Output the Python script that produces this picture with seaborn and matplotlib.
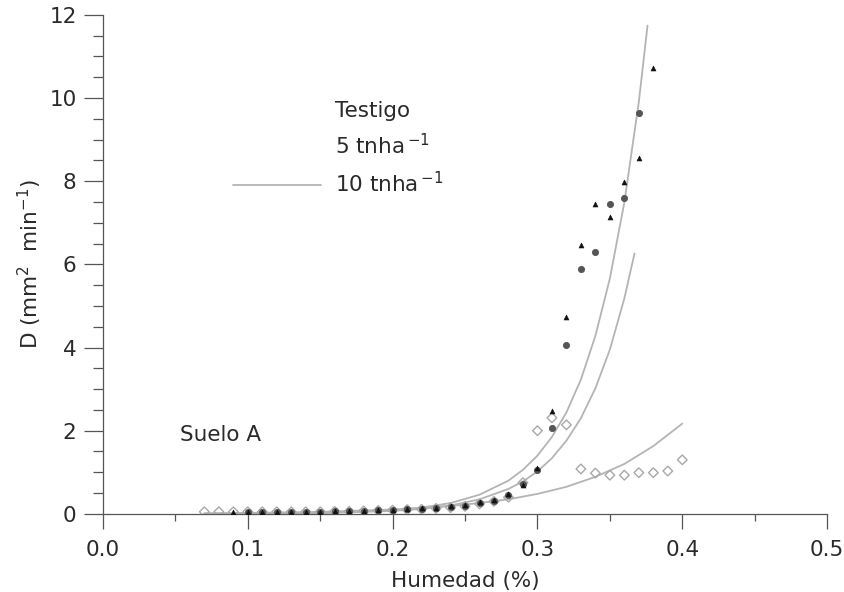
import matplotlib
matplotlib.use("Agg")
import matplotlib.pyplot as plt
from matplotlib.lines import Line2D
from matplotlib.ticker import MultipleLocator
import seaborn as sns
import pandas as pd

# ---------------- data ----------------
testigo_x = [0.09, 0.10, 0.11, 0.12, 0.13, 0.14, 0.15, 0.16, 0.17, 0.18, 0.19, 0.20,
             0.21, 0.22, 0.23, 0.24, 0.25, 0.26, 0.27, 0.28, 0.29, 0.30, 0.31, 0.32,
             0.33, 0.34, 0.35, 0.36, 0.37, 0.38]
testigo_y = [0.04, 0.04, 0.05, 0.05, 0.05, 0.05, 0.05, 0.06, 0.07, 0.08, 0.09, 0.10,
             0.11, 0.13, 0.15, 0.18, 0.22, 0.28, 0.33, 0.48, 0.70, 1.10, 2.48, 4.74,
             6.47, 7.46, 7.14, 7.98, 8.56, 10.73]

t5_x = [0.10, 0.11, 0.12, 0.13, 0.14, 0.15, 0.16, 0.17, 0.18, 0.19, 0.20, 0.21,
        0.22, 0.23, 0.24, 0.25, 0.26, 0.27, 0.28, 0.29, 0.30, 0.31, 0.32, 0.33,
        0.34, 0.35, 0.36, 0.37]
t5_y = [0.04, 0.05, 0.05, 0.05, 0.05, 0.05, 0.06, 0.07, 0.08, 0.09, 0.10, 0.11,
        0.12, 0.14, 0.17, 0.20, 0.25, 0.30, 0.45, 0.72, 1.05, 2.07, 4.06, 5.89,
        6.30, 7.46, 7.60, 9.64]

t10_x = [0.07, 0.08, 0.09, 0.10, 0.11, 0.12, 0.13, 0.14, 0.15, 0.16, 0.17, 0.18,
         0.19, 0.20, 0.21, 0.22, 0.23, 0.24, 0.25, 0.26, 0.27, 0.28, 0.29, 0.30,
         0.31, 0.32, 0.33, 0.34, 0.35, 0.36, 0.37, 0.38, 0.39, 0.40]
t10_y = [0.05, 0.05, 0.05, 0.05, 0.05, 0.05, 0.05, 0.05, 0.05, 0.06, 0.06, 0.07,
         0.08, 0.09, 0.10, 0.11, 0.13, 0.15, 0.18, 0.24, 0.30, 0.40, 0.75, 2.00,
         2.31, 2.14, 1.08, 0.98, 0.93, 0.93, 0.99, 0.99, 1.03, 1.30]

# fitted curves
fit1_x = [0.07, 0.10, 0.15, 0.20, 0.22, 0.24, 0.26, 0.28, 0.29, 0.30, 0.31, 0.32,
          0.33, 0.34, 0.35, 0.36, 0.37, 0.376]
fit1_y = [0.002, 0.005, 0.021, 0.085, 0.15, 0.26, 0.46, 0.80, 1.06, 1.40, 1.85, 2.44,
          3.23, 4.28, 5.66, 7.49, 9.91, 11.74]
fit2_x = [0.07, 0.10, 0.15, 0.20, 0.22, 0.24, 0.26, 0.28, 0.29, 0.30, 0.31, 0.32,
          0.33, 0.34, 0.35, 0.36, 0.367]
fit2_y = [0.002, 0.005, 0.018, 0.069, 0.12, 0.20, 0.35, 0.60, 0.78, 1.02, 1.34, 1.76,
          2.30, 3.02, 3.95, 5.18, 6.26]
fit3_x = [0.07, 0.10, 0.15, 0.20, 0.22, 0.24, 0.26, 0.28, 0.30, 0.32, 0.34, 0.36,
          0.38, 0.40]
fit3_y = [0.014, 0.023, 0.048, 0.104, 0.14, 0.19, 0.26, 0.35, 0.48, 0.65, 0.89, 1.20,
          1.63, 2.17]

series_names = ["Testigo", "5 tnha$^{\\,{-}1}$", "10 tnha$^{\\,{-}1}$"]
x_ticks = [0.0, 0.1, 0.2, 0.3, 0.4, 0.5]
y_ticks = [0, 2, 4, 6, 8, 10, 12]

# ---------------- style ----------------
sns.set_style("ticks")
plt.rcParams["font.family"] = ["DejaVu Sans"]
plt.rcParams["mathtext.default"] = "regular"
plt.rcParams["mathtext.fontset"] = "dejavusans"

FS = 15.5
TXT = "#2a2a2a"
fig = plt.figure(figsize=(8.44, 5.92), dpi=100)
ax = fig.add_axes([0.122, 0.132, 0.858, 0.843])

curves = pd.concat([
    pd.DataFrame({"x": fit1_x, "y": fit1_y, "fit": "a"}),
    pd.DataFrame({"x": fit2_x, "y": fit2_y, "fit": "b"}),
    pd.DataFrame({"x": fit3_x, "y": fit3_y, "fit": "c"}),
])
sns.lineplot(data=curves, x="x", y="y", units="fit", estimator=None,
             color="#b4b4b4", lw=1.3, ax=ax, sort=False, legend=False)

sns.scatterplot(x=t10_x, y=t10_y, marker="D", s=24, facecolor="none",
                edgecolor="#a8a8a8", linewidth=1.0, ax=ax, zorder=3)
sns.scatterplot(x=t5_x, y=t5_y, marker="o", s=20, color="#555555",
                edgecolor="#555555", linewidth=0.6, ax=ax, zorder=4)
sns.scatterplot(x=testigo_x, y=testigo_y, marker="^", s=13, color="#111111",
                edgecolor="#111111", linewidth=0.4, ax=ax, zorder=5)

ax.set_xlim(0.0, 0.5)
ax.set_ylim(0, 12)
ax.set_xticks(x_ticks)
ax.set_xticklabels([f"{v:.1f}" for v in x_ticks])
ax.set_yticks(y_ticks)
ax.xaxis.set_minor_locator(MultipleLocator(0.05))
ax.yaxis.set_minor_locator(MultipleLocator(0.5))
ax.tick_params(axis="y", which="major", length=14, width=0.9, color="#555555",
               labelsize=FS, pad=5, labelcolor=TXT)
ax.tick_params(axis="y", which="minor", length=7, width=0.9, color="#555555")
ax.tick_params(axis="x", which="major", length=11, width=0.9, color="#555555",
               labelsize=FS, pad=8, labelcolor=TXT)
ax.tick_params(axis="x", which="minor", length=5, width=0.9, color="#555555")
for s in ["top", "right"]:
    ax.spines[s].set_visible(False)
for s in ["left", "bottom"]:
    ax.spines[s].set_color("#555555")
    ax.spines[s].set_linewidth(0.9)
ax.patch.set_alpha(0)

ax.set_xlabel("Humedad (%)", fontsize=FS, color=TXT, labelpad=8)
ax.set_ylabel("D (mm$^2$  min$^{-1}$)", fontsize=FS, color=TXT, labelpad=4)

handles = [Line2D([], [], color="none"),
           Line2D([], [], color="none"),
           Line2D([], [], color="#b4b4b4", lw=1.3)]
leg = ax.legend(handles, series_names, loc="upper left",
                bbox_to_anchor=(0.1676, 0.845), frameon=False, fontsize=FS,
                handlelength=4.1, handletextpad=0.65, labelspacing=0.58,
                borderaxespad=0)
for t in leg.get_texts():
    t.set_color(TXT)

ax.text(0.053, 1.9, "Suelo A", fontsize=FS, color=TXT, va="center")

fig.savefig("out.png", dpi=100)
